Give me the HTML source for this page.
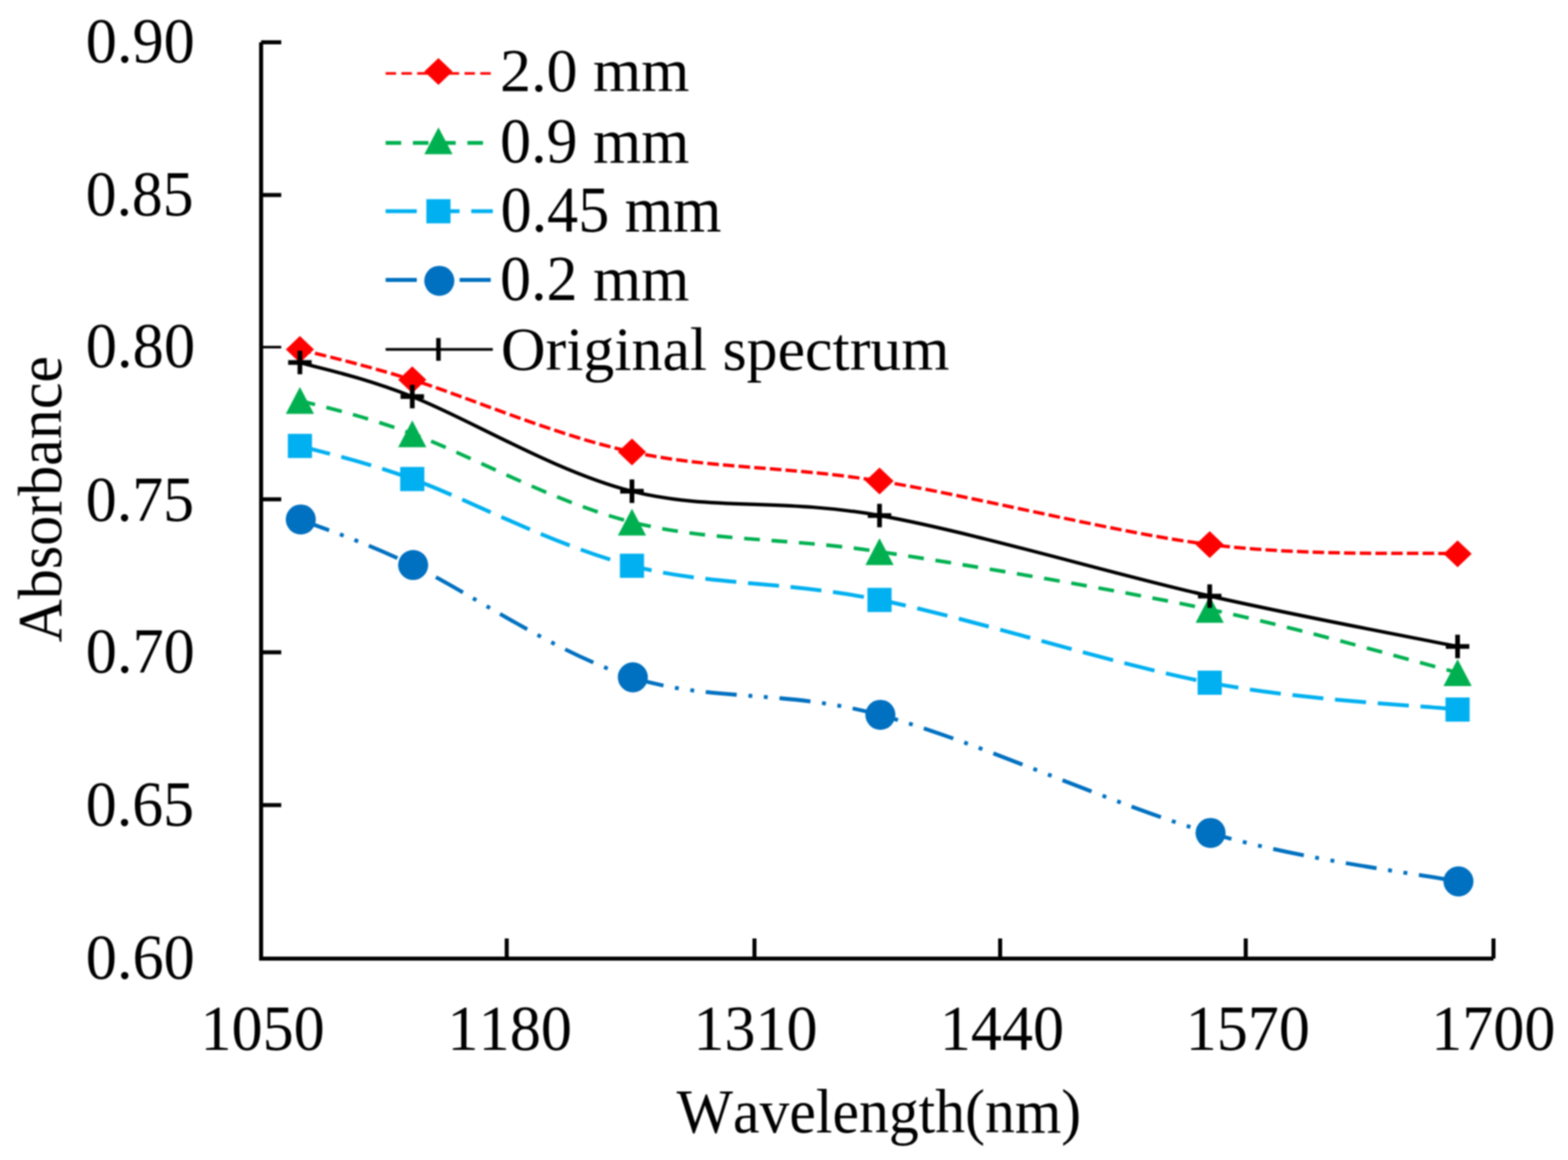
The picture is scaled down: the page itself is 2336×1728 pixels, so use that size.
<!DOCTYPE html><html><head><meta charset="utf-8"><title>Absorbance chart</title><style>html,body{margin:0;padding:0;background:#fff;overflow:hidden}svg{display:block;filter:blur(1px)}text{font-family:"Liberation Serif","Times New Roman",serif;font-kerning:none;fill:#000}</style></head><body>
<svg width="2336" height="1728" viewBox="0 0 2336 1728">
<rect width="2336" height="1728" fill="#fff"/>
<g stroke="#000" stroke-width="6.0" fill="none" stroke-linecap="butt">
<path d="M389.0 63.0V1428.0H2225.0"/>
<path d="M389.0 63.0H419.0"/>
<path d="M389.0 290.5H419.0"/>
<path d="M389.0 517.1H419.0" stroke-width="3.8"/>
<path d="M389.0 743.8H419.0"/>
<path d="M389.0 971.7H419.0"/>
<path d="M389.0 1199.3H419.0"/>
<path d="M754.9 1428.0V1398.0"/>
<path d="M1124.0 1428.0V1398.0"/>
<path d="M1490.0 1428.0V1398.0"/>
<path d="M1855.9 1428.0V1398.0"/>
<path d="M2225.0 1428.0V1398.0"/>
</g>
<path d="M446.8 520.6 C474.7 528.1 531.8 540.3 614.2 565.8 C696.7 591.2 825.5 648.2 941.5 673.3 C1057.5 698.4 1166.8 693.6 1310.3 716.6 C1453.8 739.6 1658.7 793.2 1802.2 811.2 C1945.7 829.2 2109.9 822.6 2171.5 824.9" fill="none" stroke="#FF0000" stroke-width="5.0" stroke-dasharray="17.2 6.2" stroke-linecap="butt" stroke-linejoin="round"/>
<polygon points="446.8,500.6 467.8,520.6 446.8,540.6 425.8,520.6" fill="#FF0000"/>
<polygon points="614.2,545.8 635.2,565.8 614.2,585.8 593.2,565.8" fill="#FF0000"/>
<polygon points="941.5,653.3 962.5,673.3 941.5,693.3 920.5,673.3" fill="#FF0000"/>
<polygon points="1310.3,696.6 1331.3,716.6 1310.3,736.6 1289.3,716.6" fill="#FF0000"/>
<polygon points="1802.2,791.2 1823.2,811.2 1802.2,831.2 1781.2,811.2" fill="#FF0000"/>
<polygon points="2171.5,804.9 2192.5,824.9 2171.5,844.9 2150.5,824.9" fill="#FF0000"/>
<path d="M446.8 596.5 C474.7 604.8 531.8 616.0 614.2 646.2 C696.7 676.4 825.5 748.5 941.5 777.8 C1057.5 807.1 1166.8 800.1 1310.3 821.8 C1453.8 843.5 1658.7 877.8 1802.2 907.8 C1945.7 937.8 2109.9 986.3 2171.5 1002.0" fill="none" stroke="#00B050" stroke-width="5.4" stroke-dasharray="23.6 17.4" stroke-linecap="butt" stroke-linejoin="round"/>
<polygon points="446.8,576.5 467.8,616.5 425.8,616.5" fill="#00B050"/>
<polygon points="614.2,626.2 635.2,666.2 593.2,666.2" fill="#00B050"/>
<polygon points="941.5,757.8 962.5,797.8 920.5,797.8" fill="#00B050"/>
<polygon points="1310.3,801.8 1331.3,841.8 1289.3,841.8" fill="#00B050"/>
<polygon points="1802.2,887.8 1823.2,927.8 1781.2,927.8" fill="#00B050"/>
<polygon points="2171.5,982.0 2192.5,1022.0 2150.5,1022.0" fill="#00B050"/>
<path d="M446.8 664.3 C474.7 672.5 531.8 683.9 614.2 713.6 C696.7 743.4 825.5 812.8 941.5 842.8 C1057.5 872.8 1166.8 864.7 1310.3 893.7 C1453.8 922.7 1658.7 989.8 1802.2 1017.0 C1945.7 1044.2 2109.9 1050.3 2171.5 1057.0" fill="none" stroke="#00B0F0" stroke-width="5.8" stroke-dasharray="46.4 17.4" stroke-linecap="butt" stroke-linejoin="round"/>
<rect x="428.8" y="646.3" width="36.0" height="36.0" fill="#00B0F0"/>
<rect x="596.2" y="695.6" width="36.0" height="36.0" fill="#00B0F0"/>
<rect x="923.5" y="824.8" width="36.0" height="36.0" fill="#00B0F0"/>
<rect x="1292.3" y="875.7" width="36.0" height="36.0" fill="#00B0F0"/>
<rect x="1784.2" y="999.0" width="36.0" height="36.0" fill="#00B0F0"/>
<rect x="2153.5" y="1039.0" width="36.0" height="36.0" fill="#00B0F0"/>
<path d="M446.8 773.8 C474.7 785.1 531.8 802.5 614.2 841.7 C696.7 880.9 825.5 971.8 941.5 1009.0 C1057.5 1046.2 1166.8 1026.2 1310.3 1064.8 C1453.8 1103.4 1658.7 1199.4 1802.2 1240.8 C1945.7 1282.2 2109.9 1301.0 2171.5 1313.0" fill="none" stroke="#0070C0" stroke-width="5.8" stroke-dasharray="46.4 17.4 5.8 17.4 5.8 17.4" stroke-linecap="butt" stroke-linejoin="round"/>
<circle cx="448.1" cy="773.8" r="22.4" fill="#0070C0"/>
<circle cx="615.5" cy="841.7" r="22.4" fill="#0070C0"/>
<circle cx="942.8" cy="1009.0" r="22.4" fill="#0070C0"/>
<circle cx="1311.6" cy="1064.8" r="22.4" fill="#0070C0"/>
<circle cx="1803.5" cy="1240.8" r="22.4" fill="#0070C0"/>
<circle cx="2172.8" cy="1313.0" r="22.4" fill="#0070C0"/>
<path d="M446.8 540.0 C474.7 548.5 531.8 558.8 614.2 590.8 C696.7 622.8 825.5 702.3 941.5 731.8 C1057.5 761.3 1166.8 741.9 1310.3 767.9 C1453.8 793.9 1658.7 855.4 1802.2 887.9 C1945.7 920.4 2109.9 950.5 2171.5 963.0" fill="none" stroke="#000000" stroke-width="5.2" stroke-linecap="butt" stroke-linejoin="round"/>
<path d="M429.3 540.0H464.3M446.8 522.5V557.5" stroke="#000000" stroke-width="7" fill="none"/>
<path d="M596.7 590.8H631.7M614.2 573.3V608.3" stroke="#000000" stroke-width="7" fill="none"/>
<path d="M924.0 731.8H959.0M941.5 714.3V749.3" stroke="#000000" stroke-width="7" fill="none"/>
<path d="M1292.8 767.9H1327.8M1310.3 750.4V785.4" stroke="#000000" stroke-width="7" fill="none"/>
<path d="M1784.7 887.9H1819.7M1802.2 870.4V905.4" stroke="#000000" stroke-width="7" fill="none"/>
<path d="M2154.0 963.0H2189.0M2171.5 945.5V980.5" stroke="#000000" stroke-width="7" fill="none"/>
<path d="M574.5 109.3H734.2" stroke="#FF0000" stroke-width="3.8" stroke-dasharray="15.6 7.9" fill="none"/>
<polygon points="653.2,86.5 674.2,106.5 653.2,126.5 632.2,106.5" fill="#FF0000"/>
<path d="M574.5 212.9H734.2" stroke="#00B050" stroke-width="5.8" stroke-dasharray="23.2 17.4" fill="none"/>
<polygon points="653.2,189.7 674.2,229.7 632.2,229.7" fill="#00B050"/>
<path d="M574.5 314.7H734.2" stroke="#00B0F0" stroke-width="5.8" stroke-dasharray="46.4 17.4" fill="none"/>
<rect x="635.2" y="296.7" width="36.0" height="36.0" fill="#00B0F0"/>
<path d="M574.5 417.0H734.2" stroke="#0070C0" stroke-width="6.0" stroke-dasharray="46.4 17.4 5.8 17.4 5.8 17.4" fill="none"/>
<circle cx="654.5" cy="418.3" r="22.4" fill="#0070C0"/>
<path d="M574.5 520.5H734.2" stroke="#000000" stroke-width="4.2" fill="none"/>
<path d="M653.2 503.5V537.4" stroke="#000000" stroke-width="6.7"/>
<text x="127.8" y="93.3" font-size="96.12" textLength="162.4" lengthAdjust="spacingAndGlyphs">0.90</text>
<text x="127.8" y="320.8" font-size="96.12" textLength="160.5" lengthAdjust="spacingAndGlyphs">0.85</text>
<text x="127.8" y="547.4" font-size="96.12" textLength="162.9" lengthAdjust="spacingAndGlyphs">0.80</text>
<text x="127.8" y="776.1" font-size="96.12" textLength="161.4" lengthAdjust="spacingAndGlyphs">0.75</text>
<text x="127.8" y="1002.0" font-size="96.12" textLength="162.4" lengthAdjust="spacingAndGlyphs">0.70</text>
<text x="127.8" y="1229.6" font-size="96.12" textLength="161.4" lengthAdjust="spacingAndGlyphs">0.65</text>
<text x="127.8" y="1458.3" font-size="96.12" textLength="162.4" lengthAdjust="spacingAndGlyphs">0.60</text>
<text x="298.7" y="1563.5" font-size="95.88" textLength="185.0" lengthAdjust="spacingAndGlyphs">1050</text>
<text x="666.6" y="1563.5" font-size="95.88" textLength="185.6" lengthAdjust="spacingAndGlyphs">1180</text>
<text x="1032.9" y="1563.5" font-size="95.88" textLength="185.0" lengthAdjust="spacingAndGlyphs">1310</text>
<text x="1400.2" y="1563.5" font-size="95.88" textLength="185.0" lengthAdjust="spacingAndGlyphs">1440</text>
<text x="1766.6" y="1563.5" font-size="95.88" textLength="185.0" lengthAdjust="spacingAndGlyphs">1570</text>
<text x="2132.2" y="1563.5" font-size="95.88" textLength="185.0" lengthAdjust="spacingAndGlyphs">1700</text>
<text x="1008.1" y="1686.8" font-size="93.56" textLength="602.6" lengthAdjust="spacingAndGlyphs">Wavelength(nm)</text>
<text transform="translate(90.6 957.1) rotate(-90)" x="0" y="0" font-size="94.14" textLength="426.9" lengthAdjust="spacingAndGlyphs">Absorbance</text>
<text x="745.0" y="136.1" font-size="90.15" textLength="281.9" lengthAdjust="spacingAndGlyphs">2.0 mm</text>
<text x="745.0" y="241.5" font-size="95.22" textLength="281.9" lengthAdjust="spacingAndGlyphs">0.9 mm</text>
<text x="745.7" y="344.9" font-size="97.76" textLength="329.2" lengthAdjust="spacingAndGlyphs">0.45 mm</text>
<text x="745.0" y="447.2" font-size="96.27" textLength="281.9" lengthAdjust="spacingAndGlyphs">0.2 mm</text>
<text x="746.2" y="550.7" font-size="90.44" textLength="668.2" lengthAdjust="spacingAndGlyphs">Original spectrum</text>
</svg></body></html>
